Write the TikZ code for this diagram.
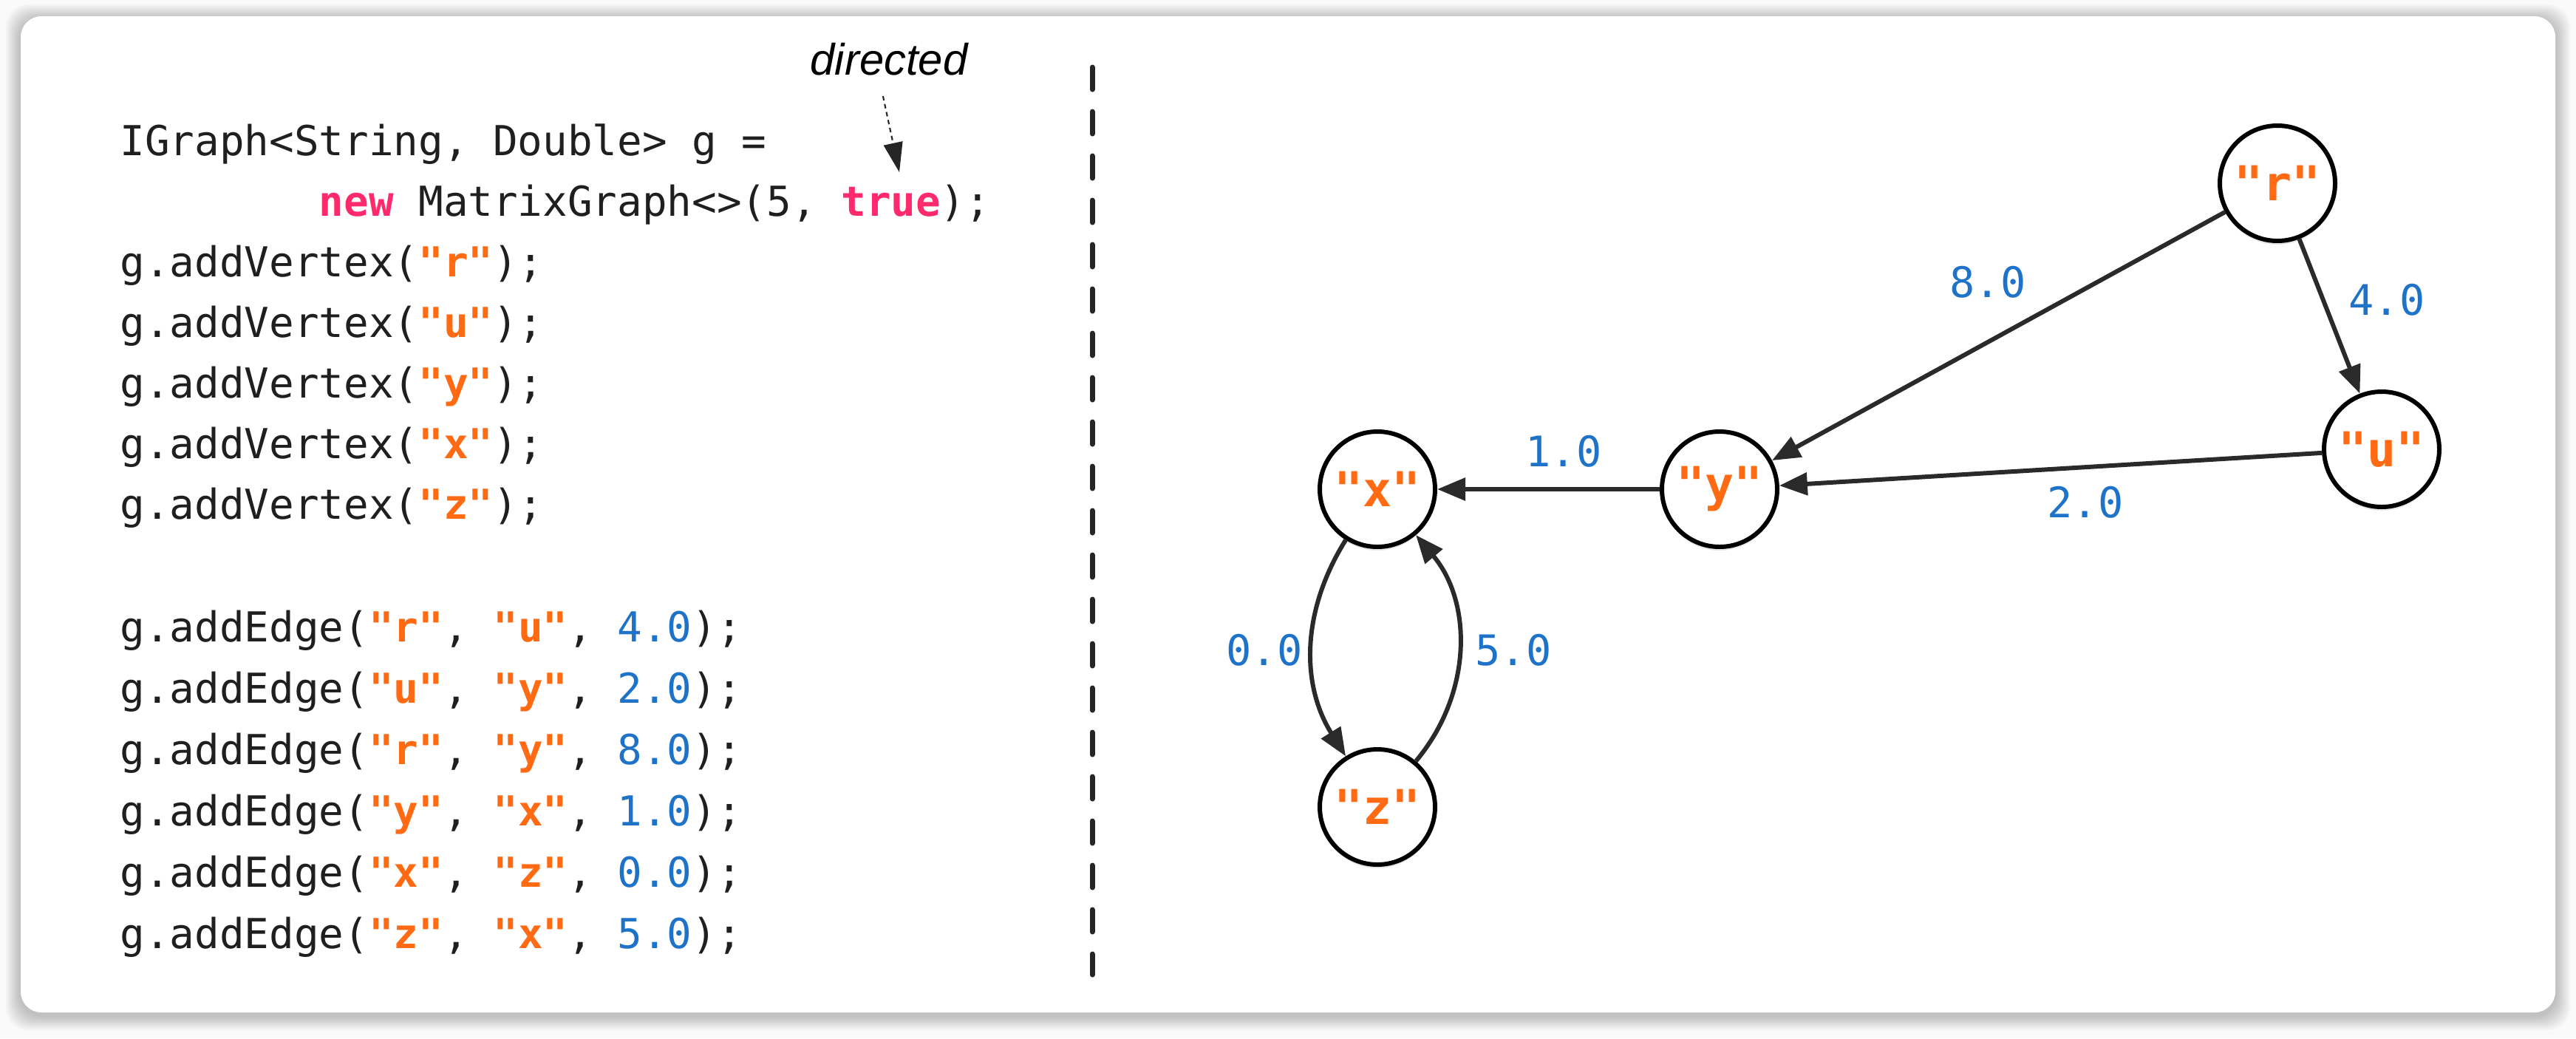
\documentclass[tikz,border=0pt]{standalone}
\usepackage{fontspec}
\setmainfont{Liberation Sans}
\newfontfamily\codefont{DejaVu Sans Mono}
\usepackage{tikz}
\usetikzlibrary{arrows.meta,shadows}
\definecolor{kwpink}{HTML}{FF2A6D}
\definecolor{strorange}{HTML}{FF6A13}
\definecolor{numblue}{HTML}{1E73C8}
\definecolor{edgegray}{HTML}{2A2A2A}
\newcommand{\kw}[1]{{\color{kwpink}\bfseries #1}}
\newcommand{\vstr}[1]{{\color{strorange}\bfseries "#1"}}
\newcommand{\vnum}[1]{{\color{numblue}#1}}
\tikzstyle{codeline}=[anchor=base west, inner sep=0pt, text=black!88, font=\codefont\fontsize{15.9}{18}\selectfont]
\tikzstyle{vertex}=[circle, draw=black, line width=1.7pt, fill=white, minimum size=1.56cm, inner sep=0pt, font=\codefont\fontsize{18.5}{20}\selectfont, drop shadow={opacity=0.2, shadow xshift=0cm, shadow yshift=-0.05cm}]
\tikzstyle{wedge}=[draw=edgegray, line width=1.7pt, -{Triangle[length=0.38cm,width=0.3cm]}]
\tikzstyle{weightlbl}=[inner sep=0pt, text=numblue, font=\codefont\fontsize{16.2}{18}\selectfont]
\tikzstyle{sepline}=[draw=black!85, line width=0.07cm, line cap=round, dash pattern=on 0.30cm off 0.30cm]
\tikzstyle{notearrow}=[draw=black!85, line width=0.6pt, dash pattern=on 0.06cm off 0.05cm, -{Triangle[length=0.4cm,width=0.26cm]}]

\begin{document}
\begin{tikzpicture}
	\useasboundingbox (0,0) rectangle (34.86,-14.05);
	\fill[black!2] (0,0) rectangle (34.86,-14.05);
	% card with soft shadow
	\foreach \i in {1,...,10}
		\fill[black, opacity=0.022, rounded corners=0.3cm] (0.28-0.02*\i,-0.26+0.02*\i) rectangle (34.58+0.02*\i,-13.74-0.02*\i);
	\fill[white, rounded corners=0.28cm] (0.28,-0.22) rectangle (34.58,-13.70);

	% code
	\node[codeline] (c1) at (1.62,-2.10) {IGraph<String, Double> g =};
	\node[codeline] (c2) at (1.62,-2.92) {\phantom{00000000}\kw{new} MatrixGraph<>(5, \kw{true});};
	\node[codeline] (c3) at (1.62,-3.74) {g.addVertex(\vstr{r});};
	\node[codeline] (c4) at (1.62,-4.56) {g.addVertex(\vstr{u});};
	\node[codeline] (c5) at (1.62,-5.38) {g.addVertex(\vstr{y});};
	\node[codeline] (c6) at (1.62,-6.20) {g.addVertex(\vstr{x});};
	\node[codeline] (c7) at (1.62,-7.02) {g.addVertex(\vstr{z});};
	\node[codeline] (c8) at (1.62,-8.68) {g.addEdge(\vstr{r}, \vstr{u}, \vnum{4.0});};
	\node[codeline] (c9) at (1.62,-9.51) {g.addEdge(\vstr{u}, \vstr{y}, \vnum{2.0});};
	\node[codeline] (c10) at (1.62,-10.34) {g.addEdge(\vstr{r}, \vstr{y}, \vnum{8.0});};
	\node[codeline] (c11) at (1.62,-11.17) {g.addEdge(\vstr{y}, \vstr{x}, \vnum{1.0});};
	\node[codeline] (c12) at (1.62,-12.00) {g.addEdge(\vstr{x}, \vstr{z}, \vnum{0.0});};
	\node[codeline] (c13) at (1.62,-12.83) {g.addEdge(\vstr{z}, \vstr{x}, \vnum{5.0});};

	\node[inner sep=0pt, font=\itshape\fontsize{17}{18}\selectfont] (dir) at (12.03,-0.80) {directed};
	\coordinate (tru) at (12.17,-2.33);
	\draw[notearrow, shorten <=0.28cm] ([xshift=-1.4mm]dir.south) -- (tru);

	\draw[sepline] (14.78,-0.91) -- (14.78,-13.19);

	% graph
	\node[vertex] (r) at (30.82,-2.48) {\vstr{r}};
	\node[vertex] (u) at (32.23,-6.08) {\vstr{u}};
	\node[vertex] (y) at (23.27,-6.62) {\vstr{y}};
	\node[vertex] (x) at (18.64,-6.62) {\vstr{x}};
	\node[vertex] (z) at (18.64,-10.92) {\vstr{z}};

	\draw[wedge] (r) -- (y);
	\draw[wedge] (r) -- (u);
	\draw[wedge] (u) -- (y);
	\draw[wedge] (y) -- (x);
	\draw[wedge] (x) to[bend right=32] (z);
	\draw[wedge] (z) to[bend right=40] (x);

	\node[weightlbl] (w8) at (26.90,-3.82) {8.0};
	\node[weightlbl] (w4) at (32.30,-4.06) {4.0};
	\node[weightlbl] (w2) at (28.22,-6.80) {2.0};
	\node[weightlbl] (w1) at (21.16,-6.11) {1.0};
	\node[weightlbl] (w0) at (17.11,-8.80) {0.0};
	\node[weightlbl] (w5) at (20.48,-8.80) {5.0};
\end{tikzpicture}
\end{document}
